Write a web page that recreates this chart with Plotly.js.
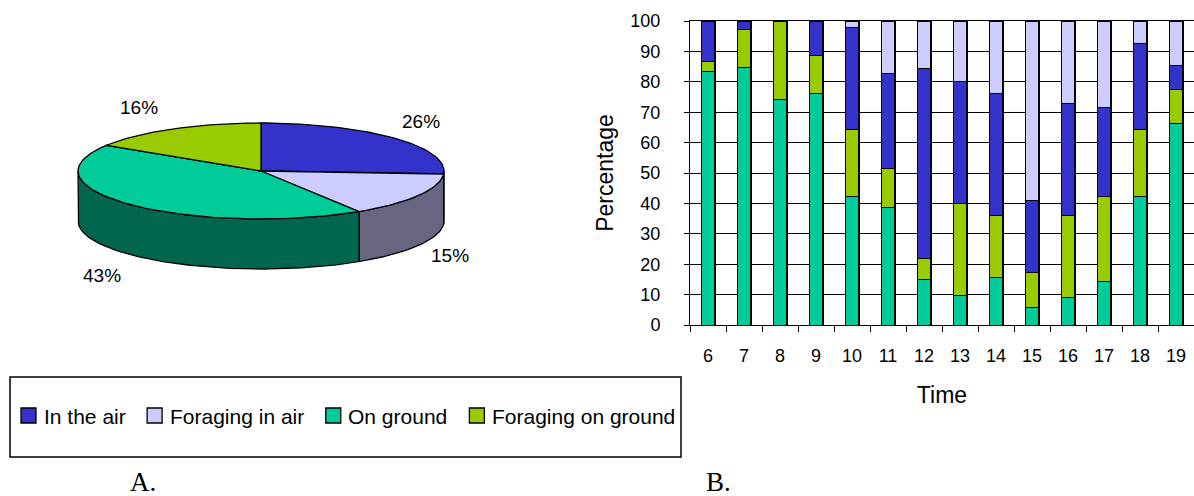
<!DOCTYPE html>
<html>
<head>
<meta charset="utf-8">
<script src="https://cdn.plot.ly/plotly-3.0.1.min.js"></script>
<style>
  html, body { margin: 0; padding: 0; background: #fff; }
  #figure { position: relative; width: 1194px; height: 496px; }
  #panelA { position: absolute; left: 0; top: 0; width: 1194px; height: 496px; z-index: 0; }
  #panelB { position: absolute; left: 560px; top: 0; width: 634px; height: 496px; z-index: 1; }
</style>
</head>
<body>
<div id="figure">
  <div id="panelA"></div>
  <div id="panelB"></div>
</div>
<script>
// Activity categories and their colours (shared by both panels)
const seriesNames = ['In the air', 'Foraging in air', 'On ground', 'Foraging on ground'];
const seriesColors = ['#3333CC', '#CCCCFF', '#00CC99', '#99CC00'];

// Panel A: overall share of each activity (%)
const pieValues = [26, 15, 43, 16];

// Panel B: share of each activity per hour of the day (%)
const hours = ['6', '7', '8', '9', '10', '11', '12', '13', '14', '15', '16', '17', '18', '19'];
const inTheAir         = [13.4, 2.9, 0, 11.4, 33.5, 31.1, 62.6, 40.1, 40.0, 23.9, 36.8, 29.1, 28.2, 8.0];
const foragingInAir    = [0, 0, 0, 0, 2.2, 17.3, 15.5, 20.0, 24.0, 58.9, 27.3, 28.5, 7.5, 14.6];
const onGround         = [83.3, 84.6, 74.2, 76.0, 42.3, 38.5, 15.0, 9.6, 15.5, 5.6, 9.0, 14.3, 42.4, 66.2];
const foragingOnGround = [3.3, 12.5, 25.8, 12.6, 22.0, 13.1, 6.9, 30.3, 20.5, 11.6, 26.9, 28.1, 21.9, 11.2];

// horizontal grid levels of the percentage axis
const gridLevels = [10, 20, 30, 40, 50, 60, 70, 80, 90];

const W = 1194, H = 496;
const FONT = 'Liberation Sans, Arial, sans-serif';
const SERIF = 'Liberation Serif, Times New Roman, serif';
const config = { staticPlot: true, displayModeBar: false };

// ================= Panel A: 3-D pie, legend and panel letters =================
// drawn on hidden axes scaled 1 unit = 1 px, y pointing down
const pie = { cx: 261, cy: 171, rx: 183, ry: 48, depth: 50 };
function pt(tDeg, dy) {
  const t = tDeg * Math.PI / 180;
  return [pie.cx + pie.rx * Math.cos(t), pie.cy - pie.ry * Math.sin(t) + dy];
}
function arc(a0, a1, dy) {
  const n = Math.max(2, Math.ceil(Math.abs(a1 - a0) / 1.5));
  const out = [];
  for (let k = 0; k <= n; k++) out.push(pt(a0 + (a1 - a0) * k / n, dy));
  return out;
}
function darken(hex, f) {
  const n = parseInt(hex.slice(1), 16);
  const r = Math.round(((n >> 16) & 255) * f);
  const g = Math.round(((n >> 8) & 255) * f);
  const b = Math.round((n & 255) * f);
  return `rgb(${r},${g},${b})`;
}
function polyTrace(pts, fill) {
  return {
    type: 'scatter', mode: 'lines',
    x: pts.map(p => p[0]), y: pts.map(p => p[1]),
    fill: 'toself', fillcolor: fill,
    line: { color: '#000', width: 1.3 },
    hoverinfo: 'skip', showlegend: false
  };
}

const pieTotal = pieValues.reduce((a, b) => a + b, 0);
let acc = 0;
const slices = pieValues.map((v, i) => {
  const start = 90 - acc / pieTotal * 360;
  acc += v;
  const end = 90 - acc / pieTotal * 360;
  return { i, start, end };
});

const pieTraces = [];
// front walls first (visible half: angles -180..0), then the top faces
slices.forEach(s => {
  const lo = Math.max(s.end, -180), hi = Math.min(s.start, 0);
  if (hi > lo) {
    const pts = arc(hi, lo, 0).concat(arc(lo, hi, pie.depth));
    pts.push(pts[0]);
    pieTraces.push(polyTrace(pts, darken(seriesColors[s.i], 0.5)));
  }
});
slices.forEach(s => {
  const c = [pie.cx, pie.cy];
  const pts = [c].concat(arc(s.start, s.end, 0), [c]);
  pieTraces.push(polyTrace(pts, seriesColors[s.i]));
});

// percentage labels around the pie
const pieLabelPos = [[421, 121.5], [449.5, 255.5], [101.5, 275.5], [139, 107]];
const annA = pieValues.map((v, i) => ({
  x: pieLabelPos[i][0], y: pieLabelPos[i][1], xanchor: 'center', yanchor: 'middle',
  text: v + '%', showarrow: false, font: { family: FONT, size: 19, color: '#000' }
}));

// legend box with colour keys
const shapesA = [{
  type: 'rect', x0: 10, x1: 681, y0: 377, y1: 457,
  line: { color: '#000', width: 1.5 }, fillcolor: 'rgba(0,0,0,0)'
}];
const ctx = document.createElement('canvas').getContext('2d');
ctx.font = "21px 'Liberation Sans'";
let keyX = 21;
const keyTop = 408, keySize = 15;
seriesNames.forEach((name, i) => {
  shapesA.push({
    type: 'rect', x0: keyX, x1: keyX + keySize, y0: keyTop, y1: keyTop + keySize,
    fillcolor: seriesColors[i], line: { color: '#000', width: 1.3 }
  });
  const tx = keyX + 21.7;
  annA.push({
    x: tx - 1, y: 416.5, xanchor: 'left', yanchor: 'middle',
    text: name, showarrow: false, font: { family: FONT, size: 21, color: '#000' }
  });
  keyX = tx + ctx.measureText(name).width + 22.7;
});

// panel letters
[['A.', 142.5], ['B.', 718.5]].forEach(([t, x]) => annA.push({
  x: x, y: 481.5, xanchor: 'center', yanchor: 'middle', text: t, showarrow: false,
  font: { family: SERIF, size: 27, color: '#000' }
}));

Plotly.newPlot('panelA', pieTraces, {
  width: W, height: H,
  margin: { l: 0, r: 0, t: 0, b: 0, pad: 0 },
  paper_bgcolor: '#fff', plot_bgcolor: '#fff',
  font: { family: FONT, color: '#000' },
  showlegend: false,
  xaxis: { domain: [0, 1], range: [0, W], visible: false, fixedrange: true },
  yaxis: { domain: [0, 1], range: [H, 0], visible: false, fixedrange: true },
  shapes: shapesA,
  annotations: annA
}, config);

// ================= Panel B: stacked bars per hour =================
const BW = 634, BX = 560;                 // panel width and its left offset on the page
const plotL = 690 - BX, plotW = BW - plotL; // plot area inside the panel (px)
const plotT = 21, plotH = 325 - 21;
const nCat = hours.length;
const barWidth = 0.37;

const barSeries = [
  { name: seriesNames[2], values: onGround, color: seriesColors[2] },
  { name: seriesNames[3], values: foragingOnGround, color: seriesColors[3] },
  { name: seriesNames[0], values: inTheAir, color: seriesColors[0] },
  { name: seriesNames[1], values: foragingInAir, color: seriesColors[1] }
];
const barTraces = barSeries.map(s => ({
  type: 'bar',
  name: s.name,
  x: hours,
  y: s.values,
  width: barWidth,
  marker: { color: s.color, line: { color: '#000', width: 1 } },
  showlegend: false,
  hoverinfo: 'skip'
}));

// grid: one path in paper units, run through the gaps between the bars
const snap = v => Math.round(v - 0.5) + 0.5;
const xPix = p => plotL + (p + 0.5) / nCat * plotW;      // category position -> px
const yPix = v => plotT + (1 - v / 100) * plotH;          // percentage -> px
const toPX = p => (p / BW).toFixed(5);
const toPY = p => (1 - p / H).toFixed(5);
let gridPath = '';
gridLevels.forEach(v => {
  const y = toPY(snap(yPix(v)));
  let from = -0.5;
  hours.forEach((h, i) => {
    gridPath += `M${toPX(xPix(from))},${y}L${toPX(xPix(i - barWidth / 2))},${y}`;
    from = i + barWidth / 2;
  });
  gridPath += `M${toPX(xPix(from))},${y}L${toPX(xPix(nCat - 0.5))},${y}`;
});
hours.forEach((h, i) => {
  const x = toPX(snap(xPix(i + 0.2)));
  gridPath += `M${x},${toPY(yPix(0))}L${x},${toPY(yPix(100))}`;
});
const shapesB = [{
  type: 'path', xref: 'paper', yref: 'paper', path: gridPath,
  line: { color: '#000', width: 1 }, layer: 'above'
}];

const tickFont = { family: FONT, size: 18, color: '#000' };
const titleFont = { family: FONT, size: 23, color: '#000' };

Plotly.newPlot('panelB', barTraces, {
  width: BW, height: H,
  margin: { l: 0, r: 0, t: 0, b: 0, pad: 0 },
  paper_bgcolor: 'rgba(0,0,0,0)', plot_bgcolor: '#fff',
  font: { family: FONT, color: '#000' },
  barmode: 'stack',
  showlegend: false,
  xaxis: {
    domain: [plotL / BW, 1], type: 'category', range: [-0.5, nCat - 0.5],
    tickson: 'boundaries', ticks: 'outside', ticklen: 6, tickcolor: '#000', tickwidth: 1,
    showline: true, mirror: true, linecolor: '#000', linewidth: 1, showgrid: false, zeroline: false,
    tickfont: tickFont, ticklabelstandoff: 14,
    title: { text: 'Time', font: titleFont, standoff: 22 },
    fixedrange: true
  },
  yaxis: {
    domain: [1 - 325 / H, 1 - 21 / H], range: [0, 100], dtick: 10,
    ticks: 'outside', ticklen: 5, tickcolor: '#000', tickwidth: 1,
    showline: true, linecolor: '#000', linewidth: 1, showgrid: false, zeroline: false,
    tickfont: tickFont, ticklabelstandoff: 20,
    title: { text: 'Percentage', font: titleFont, standoff: 10 },
    fixedrange: true
  },
  shapes: shapesB
}, config);
</script>
</body>
</html>
